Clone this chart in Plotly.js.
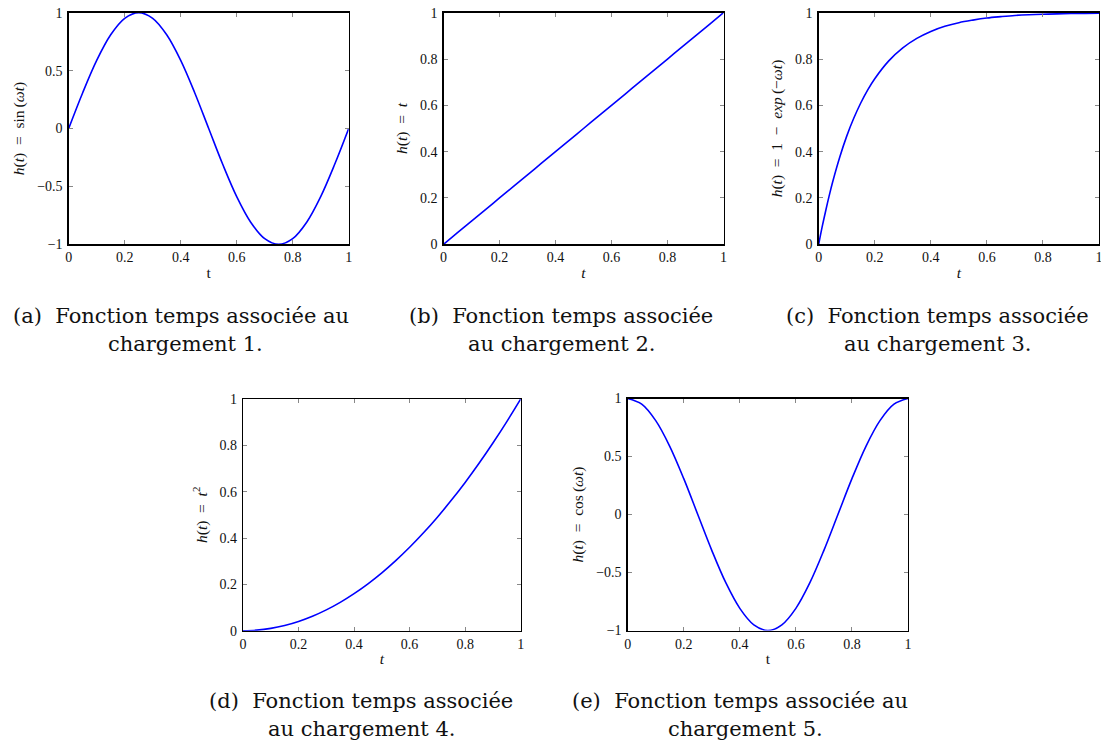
<!DOCTYPE html>
<html>
<head>
<meta charset="utf-8">
<script src="https://cdn.plot.ly/plotly-3.0.1.min.js"></script>
<style>html,body{margin:0;padding:0;background:#fff;}#chart{width:1101px;height:747px;}</style>
</head>
<body>
<div id="chart"></div>
<script>
// ---- data ----
const tGrid = [0,0.05,0.1,0.15,0.2,0.25,0.3,0.35,0.4,0.45,0.5,0.55,0.6,0.65,0.7,0.75,0.8,0.85,0.9,0.95,1];
const hSin = [0,0.309,0.588,0.809,0.951,1,0.951,0.809,0.588,0.309,0,-0.309,-0.588,-0.809,-0.951,-1,-0.951,-0.809,-0.588,-0.309,0];
const hLin = [0,0.05,0.1,0.15,0.2,0.25,0.3,0.35,0.4,0.45,0.5,0.55,0.6,0.65,0.7,0.75,0.8,0.85,0.9,0.95,1];
const tExp = [0,0.0125,0.025,0.0375,0.05,0.075,0.1,0.125,0.15,0.175,0.2,0.25,0.3,0.35,0.4,0.45,0.5,0.55,0.6,0.65,0.7,0.75,0.8,0.85,0.9,0.95,1];
const hExp = [0,0.076,0.145,0.210,0.270,0.376,0.467,0.544,0.610,0.667,0.715,0.792,0.848,0.889,0.919,0.941,0.957,0.968,0.977,0.983,0.988,0.991,0.993,0.995,0.9965,0.997,0.998];
const hSq = [0,0.0025,0.01,0.0225,0.04,0.0625,0.09,0.1225,0.16,0.2025,0.25,0.3025,0.36,0.4225,0.49,0.5625,0.64,0.7225,0.81,0.9025,1];
const hCos = [1,0.951,0.809,0.588,0.309,0,-0.309,-0.588,-0.809,-0.951,-1,-0.951,-0.809,-0.588,-0.309,0,0.309,0.588,0.809,0.951,1];
const xTicks = [0,0.2,0.4,0.6,0.8,1];
const yTicksSym = [-1,-0.5,0,0.5,1];
const yTicksPos = [0,0.2,0.4,0.6,0.8,1];
const yTitles = [
  "<i>h</i>(<i>t</i>)\u2002=\u2002sin\u2009(<i>ωt</i>)",
  "<i>h</i>(<i>t</i>)\u2002=\u2002<i>t</i>",
  "<i>h</i>(<i>t</i>)\u2002=\u20021\u2002−\u2002<i>exp</i>\u2009(−<i>ωt</i>)",
  "<i>h</i>(<i>t</i>)\u2002=\u2002<i>t</i><sup>2</sup>",
  "<i>h</i>(<i>t</i>)\u2002=\u2002cos\u2009(<i>ωt</i>)"
];
const xTitles = ["t","<i>t</i>","<i>t</i>","<i>t</i>","t"];
const captionLine1 = [
  "(a)  Fonction temps associée au",
  "(b)  Fonction temps associée",
  "(c)  Fonction temps associée",
  "(d)  Fonction temps associée",
  "(e)  Fonction temps associée au"
];
const captionLine2 = [
  "chargement 1.",
  "au chargement 2.",
  "au chargement 3.",
  "au chargement 4.",
  "chargement 5."
];

// ---- layout geometry (pixels) ----
const W = 1101, H = 747;
const boxes = [
  {l:68.7, r:348.7, t:12.7, b:244.3},
  {l:443.5, r:723.5, t:12.7, b:244.3},
  {l:818.7, r:1099, t:12.7, b:244.3},
  {l:243, r:520.7, t:399, b:630.7},
  {l:627.7, r:908, t:398.5, b:630.5}
];
const capPos = [
  {x1:180.5, x2:185, y1:316, y2:344},
  {x1:561, x2:561, y1:316, y2:344},
  {x1:937, x2:937, y1:316, y2:344},
  {x1:361, x2:361, y1:701, y2:729},
  {x1:740, x2:745, y1:701, y2:729}
];

const series = [
  {x:tGrid, y:hSin, sym:true},
  {x:tGrid, y:hLin, sym:false},
  {x:tExp, y:hExp, sym:false},
  {x:tGrid, y:hSq, sym:false},
  {x:tGrid, y:hCos, sym:true}
];

const tickFont = {family:"Liberation Serif, DejaVu Serif, serif", size:14, color:"#111"};
const titleFont = {family:"Liberation Serif, DejaVu Serif, serif", size:15.5, color:"#111"};
const capFont = {family:"DejaVu Serif, Liberation Serif, serif", size:21, color:"#111"};
const data = [];
const layout = {
  width:W, height:H,
  margin:{l:0,r:0,t:0,b:0},
  paper_bgcolor:"#fff", plot_bgcolor:"#fff",
  showlegend:false,
  annotations:[]
};

series.forEach((s,i)=>{
  const n = i===0 ? "" : String(i+1);
  data.push({
    x:s.x, y:s.y, type:"scatter", mode:"lines",
    line:{color:"#0000ff", width:1.6, shape:"spline", smoothing:1},
    xaxis:"x"+n, yaxis:"y"+n, hoverinfo:"skip"
  });
  const b = boxes[i];
  const common = {
    showgrid:false, zeroline:false, showline:true, linecolor:"#000", linewidth:1.3,
    mirror:"ticks", ticks:"inside", ticklen:4, tickcolor:"#888", tickwidth:1,
    tickfont:tickFont, fixedrange:true, ticklabeloverflow:"allow"
  };
  layout["xaxis"+n] = Object.assign({}, common, {
    domain:[b.l/W, b.r/W], anchor:"y"+n, range:[0,1],
    tickvals:xTicks, ticktext:xTicks.map(String),
    title:{text:xTitles[i], font:titleFont, standoff:2}
  });
  const yt = s.sym ? yTicksSym : yTicksPos;
  layout["yaxis"+n] = Object.assign({}, common, {
    domain:[1-b.b/H, 1-b.t/H], anchor:"x"+n, range:s.sym?[-1,1]:[0,1],
    tickvals:yt, ticktext:yt.map(v=>v<0?"−"+Math.abs(v):String(v)),
    ticklabelstandoff:2,
    title:{text:yTitles[i], font:titleFont, standoff:8}
  });
  const c = capPos[i];
  layout.annotations.push({xref:"paper", yref:"paper", x:c.x1/W, y:1-c.y1/H, text:captionLine1[i],
    showarrow:false, xanchor:"center", yanchor:"middle", font:capFont});
  layout.annotations.push({xref:"paper", yref:"paper", x:c.x2/W, y:1-c.y2/H, text:captionLine2[i],
    showarrow:false, xanchor:"center", yanchor:"middle", font:capFont});
});

Plotly.newPlot("chart", data, layout, {staticPlot:true, displayModeBar:false});
</script>
</body>
</html>
